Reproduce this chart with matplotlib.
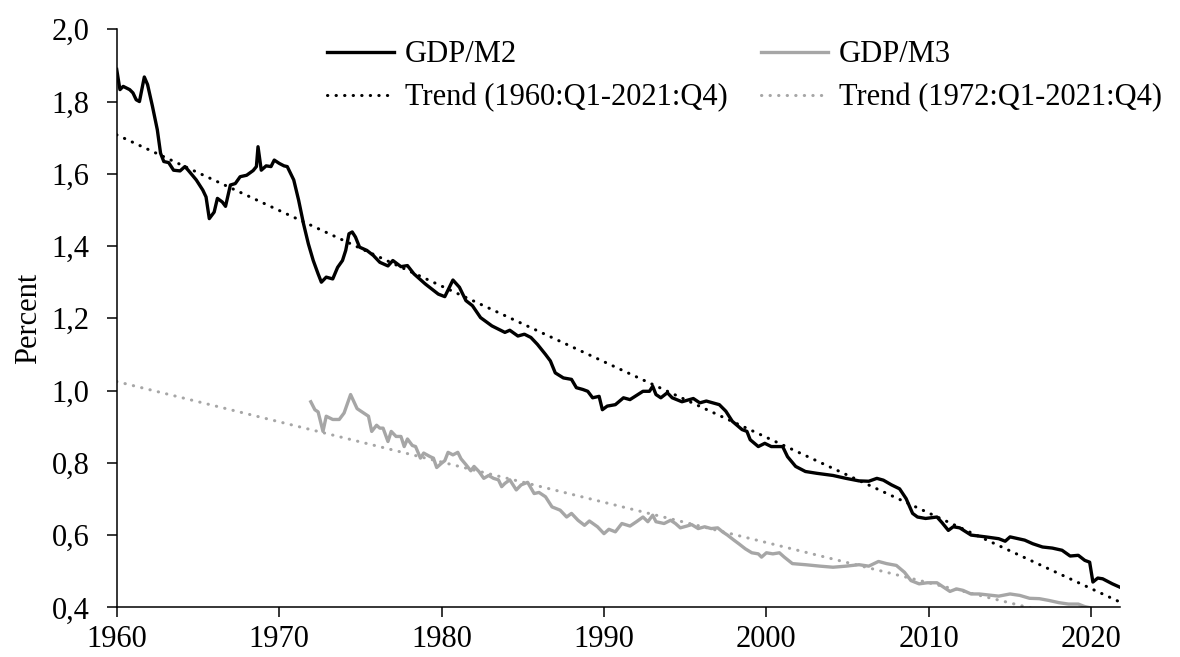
import numpy as np
import matplotlib.pyplot as plt
from matplotlib.ticker import FuncFormatter, MultipleLocator

### DATA ###
m2_years = [1960.0, 1960.2, 1960.4, 1960.8, 1961.0, 1961.2, 1961.4, 1961.7, 1961.9, 1962.2,
            1962.5, 1962.7, 1962.9, 1963.2, 1963.5, 1963.9, 1964.2, 1964.4, 1964.9, 1965.3,
            1965.5, 1965.7, 1966.0, 1966.2, 1966.5, 1966.7, 1967.0, 1967.3, 1967.6, 1968.0,
            1968.4, 1968.6, 1968.7, 1968.9, 1969.2, 1969.5, 1969.7, 1970.0, 1970.3, 1970.5,
            1970.9, 1971.2, 1971.5, 1971.8, 1972.1, 1972.4, 1972.6, 1972.9, 1973.3, 1973.6,
            1973.9, 1974.1, 1974.3, 1974.5, 1974.7, 1974.95, 1975.4, 1975.8, 1976.2, 1976.7,
            1977.0, 1977.5, 1977.9, 1978.3, 1979.0, 1979.8, 1980.2, 1980.7, 1981.1, 1981.5,
            1981.9, 1982.4, 1983.1, 1983.9, 1984.2, 1984.7, 1985.1, 1985.5, 1985.9, 1986.4,
            1986.7, 1987.0, 1987.5, 1988.0, 1988.3, 1988.7, 1989.0, 1989.3, 1989.7, 1989.9,
            1990.2, 1990.7, 1991.2, 1991.6, 1992.4, 1992.8, 1993.0, 1993.2, 1993.5, 1993.9,
            1994.2, 1994.8, 1995.5, 1995.9, 1996.3, 1996.7, 1997.1, 1997.5, 1997.9, 1998.5,
            1998.8, 1999.0, 1999.5, 1999.9, 2000.3, 2001.0, 2001.3, 2001.8, 2002.4, 2003.1,
            2003.6, 2004.1, 2004.9, 2005.7, 2006.3, 2006.8, 2007.2, 2007.7, 2008.2, 2008.6,
            2009.0, 2009.3, 2009.8, 2010.5, 2010.8, 2011.2, 2011.5, 2011.9, 2012.6, 2013.5,
            2014.3, 2014.7, 2015.0, 2015.9, 2016.4, 2017.0, 2017.6, 2018.2, 2018.7, 2019.2,
            2019.6, 2019.9, 2020.1, 2020.4, 2020.7, 2021.3, 2021.75]
m2_values = [1.889, 1.833, 1.842, 1.833, 1.824, 1.805, 1.800, 1.868, 1.847, 1.787,
             1.722, 1.657, 1.634, 1.631, 1.610, 1.608, 1.620, 1.610, 1.583, 1.555,
             1.536, 1.476, 1.494, 1.532, 1.522, 1.510, 1.569, 1.573, 1.592, 1.596,
             1.609, 1.620, 1.675, 1.610, 1.622, 1.620, 1.638, 1.629, 1.622, 1.620,
             1.583, 1.527, 1.462, 1.406, 1.360, 1.323, 1.300, 1.314, 1.309, 1.341,
             1.360, 1.388, 1.434, 1.439, 1.425, 1.397, 1.388, 1.374, 1.355, 1.345,
             1.360, 1.343, 1.346, 1.323, 1.295, 1.267, 1.260, 1.306, 1.286, 1.249,
             1.235, 1.202, 1.179, 1.161, 1.167, 1.151, 1.156, 1.147, 1.128, 1.100,
             1.082, 1.049, 1.035, 1.031, 1.008, 1.003, 0.998, 0.980, 0.984, 0.947,
             0.957, 0.961, 0.980, 0.975, 0.998, 0.998, 1.012, 0.989, 0.980, 0.994,
             0.980, 0.969, 0.978, 0.966, 0.971, 0.966, 0.961, 0.943, 0.915, 0.892,
             0.887, 0.864, 0.845, 0.854, 0.845, 0.845, 0.817, 0.790, 0.776, 0.771,
             0.768, 0.765, 0.757, 0.750, 0.749, 0.757, 0.752, 0.739, 0.728, 0.701,
             0.660, 0.650, 0.646, 0.650, 0.635, 0.613, 0.623, 0.620, 0.600, 0.595,
             0.590, 0.583, 0.595, 0.586, 0.576, 0.567, 0.564, 0.558, 0.542, 0.544,
             0.530, 0.525, 0.470, 0.481, 0.479, 0.465, 0.456]

m3_years = [1971.95, 1972.2, 1972.4, 1972.7, 1972.9, 1973.3, 1973.7, 1974.0, 1974.4, 1974.8,
            1975.2, 1975.5, 1975.7, 1976.0, 1976.2, 1976.4, 1976.7, 1976.9, 1977.2, 1977.5,
            1977.7, 1977.9, 1978.2, 1978.4, 1978.7, 1978.9, 1979.3, 1979.5, 1979.7, 1980.0,
            1980.2, 1980.4, 1980.7, 1981.0, 1981.2, 1981.5, 1981.8, 1982.0, 1982.3, 1982.6,
            1982.9, 1983.2, 1983.5, 1983.7, 1983.9, 1984.2, 1984.6, 1984.9, 1985.3, 1985.7,
            1986.0, 1986.4, 1986.8, 1987.3, 1987.7, 1988.0, 1988.4, 1988.8, 1989.1, 1989.6,
            1990.0, 1990.3, 1990.7, 1991.1, 1991.6, 1992.0, 1992.4, 1992.7, 1993.0, 1993.2,
            1993.7, 1994.1, 1994.4, 1994.7, 1995.1, 1995.4, 1995.8, 1996.2, 1996.6, 1997.0,
            1997.3, 1997.6, 1998.0, 1998.3, 1998.7, 1999.1, 1999.5, 1999.7, 2000.0, 2000.4,
            2000.8, 2001.1, 2001.6, 2002.4, 2003.3, 2004.1, 2004.9, 2005.7, 2006.3, 2006.9,
            2007.4, 2008.0, 2008.5, 2008.9, 2009.4, 2009.9, 2010.5, 2010.9, 2011.3, 2011.7,
            2012.1, 2012.6, 2013.1, 2013.7, 2014.3, 2015.0, 2015.6, 2016.2, 2016.8, 2017.4,
            2018.0, 2018.6, 2019.2, 2019.6, 2019.9]
m3_values = [0.969, 0.947, 0.941, 0.887, 0.929, 0.920, 0.920, 0.938, 0.989, 0.950,
             0.938, 0.929, 0.887, 0.904, 0.896, 0.896, 0.859, 0.887, 0.873, 0.873,
             0.845, 0.866, 0.848, 0.845, 0.813, 0.827, 0.817, 0.813, 0.787, 0.799,
             0.806, 0.829, 0.822, 0.829, 0.811, 0.795, 0.778, 0.790, 0.776, 0.757,
             0.765, 0.757, 0.753, 0.734, 0.743, 0.753, 0.725, 0.739, 0.746, 0.715,
             0.718, 0.706, 0.678, 0.669, 0.650, 0.660, 0.641, 0.627, 0.639, 0.623,
             0.604, 0.616, 0.609, 0.632, 0.625, 0.637, 0.650, 0.637, 0.655, 0.637,
             0.632, 0.641, 0.632, 0.620, 0.625, 0.629, 0.618, 0.623, 0.618, 0.620,
             0.609, 0.600, 0.586, 0.576, 0.562, 0.551, 0.548, 0.539, 0.551, 0.548,
             0.551, 0.539, 0.521, 0.518, 0.514, 0.511, 0.514, 0.518, 0.514, 0.527,
             0.521, 0.516, 0.497, 0.474, 0.465, 0.468, 0.468, 0.456, 0.444, 0.451,
             0.447, 0.437, 0.437, 0.434, 0.431, 0.437, 0.433, 0.425, 0.424, 0.419,
             0.413, 0.409, 0.409, 0.402, 0.399]

# linear trends, end points only
trend_m2_years = [1960.0, 2021.75]
trend_m2_values = [1.708, 0.415]
trend_m3_years = [1960.0, 2021.75]
trend_m3_values = [1.025, 0.337]

labels = ['GDP/M2', 'Trend (1960:Q1-2021:Q4)', 'GDP/M3', 'Trend (1972:Q1-2021:Q4)']

### PLOT ###
plt.rcParams['font.family'] = ['Liberation Serif', 'DejaVu Serif']
plt.rcParams['font.size'] = 22

GREY = '#a6a6a6'
fig = plt.figure(figsize=(11.8, 6.57), dpi=100)
ax = fig.add_axes([0.0989, 0.0756, 0.8500, 0.8798])

l1, = ax.plot(m2_years, m2_values, color='black', linewidth=2.4, solid_joinstyle='round')
l3, = ax.plot(m3_years, m3_values, color=GREY, linewidth=2.4, solid_joinstyle='round')
l2, = ax.plot(trend_m2_years, trend_m2_values, color='black', linewidth=2.2,
              linestyle=(0, (0.1, 2.7)), dash_capstyle='round')
l4, = ax.plot(trend_m3_years, trend_m3_values, color=GREY, linewidth=2.2,
              linestyle=(0, (0.1, 2.7)), dash_capstyle='round')

ax.set_xlim(1960, 2021.75)
ax.set_ylim(0.4, 2.0)
ax.xaxis.set_major_locator(MultipleLocator(10))
ax.yaxis.set_major_locator(MultipleLocator(0.2))
ax.yaxis.set_major_formatter(FuncFormatter(lambda v, p: f'{v:.1f}'.replace('.', ',')))
ax.tick_params(direction='out', length=7, width=1.1)
ax.tick_params(axis='x', pad=6)
ax.tick_params(axis='y', pad=12.5)
for s in ['top', 'right']:
    ax.spines[s].set_visible(False)
for s in ['left', 'bottom']:
    ax.spines[s].set_linewidth(1.1)
ax.set_ylabel('Percent', labelpad=6)

fig.legend([l1, l2, l3, l4], labels, ncol=2, frameon=False,
           loc='upper left', bbox_to_anchor=(0.264, 0.962), borderpad=0,
           handlelength=2.2, handletextpad=0.35, columnspacing=1.1, labelspacing=0.45)

fig.savefig('out.png', dpi=100)
